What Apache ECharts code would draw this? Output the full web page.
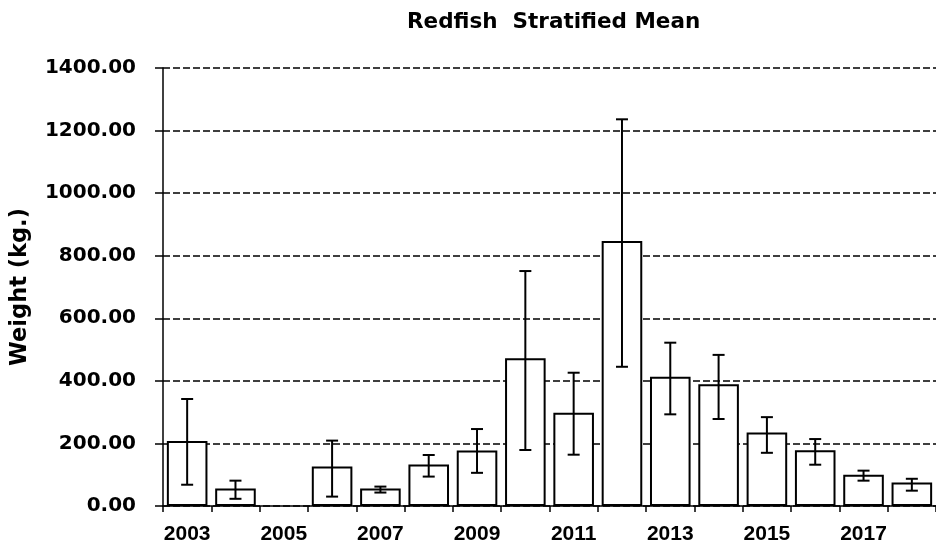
<!DOCTYPE html>
<html>
<head>
<meta charset="utf-8">
<script src="https://cdn.jsdelivr.net/npm/echarts@6/dist/echarts.min.js"></script>
<style>html,body{margin:0;padding:0;background:#fff}#c{width:936px;height:549px}</style>
</head>
<body>
<div id="c"></div>
<script>
const years = ['2003','2004','2005','2006','2007','2008','2009','2010','2011','2012','2013','2014','2015','2016','2017','2018'];
const means = [208, 56, null, 126, 56, 133, 177, 472, 298, 847, 413, 389, 235, 178, 100, 75];
const lower = [68, 23, null, 30, 43, 94, 106, 179, 164, 445, 293, 278, 170, 132, 81, 49];
const upper = [342, 81, null, 209, 62, 163, 246, 751, 426, 1236, 522, 483, 284, 214, 113, 87];
const yTicks = [0, 200, 400, 600, 800, 1000, 1200, 1400];

const errData = years.map((y, i) => upper[i] == null ? null : [i, lower[i], upper[i]]).filter(d => d);

const chart = echarts.init(document.getElementById('c'), null, {renderer: 'canvas'});
chart.setOption({
  animation: false,
  backgroundColor: '#fff',
  title: {
    text: 'Redfish  Stratified Mean',
    left: 402, top: 6,
    textStyle: {fontFamily: 'DejaVu Sans', fontWeight: 'bold', fontSize: 21.5, color: '#000'}
  },
  grid: {left: 163, right: 0, top: 68, bottom: 43, containLabel: false, outerBoundsMode: 'none'},
  xAxis: {
    type: 'category',
    data: years,
    boundaryGap: true,
    axisLine: {show: true, lineStyle: {color: '#000', width: 1.5}},
    axisTick: {show: true, interval: 0, length: 6, lineStyle: {color: '#000', width: 1.5}},
    axisLabel: {interval: 1, margin: 18, fontFamily: 'Liberation Sans', fontWeight: 'bold', fontSize: 21, color: '#000'},
    splitLine: {show: false}
  },
  yAxis: {
    type: 'value',
    min: yTicks[0], max: yTicks[yTicks.length - 1], interval: 200,
    name: 'Weight (kg.)',
    nameLocation: 'middle',
    nameGap: 131,
    nameTextStyle: {fontFamily: 'DejaVu Sans', fontWeight: 'bold', fontSize: 22.5, color: '#000'},
    axisLine: {show: true, lineStyle: {color: '#000', width: 1.5}},
    axisTick: {show: true, length: 8, lineStyle: {color: '#000', width: 1.5}},
    axisLabel: {margin: 27, fontFamily: 'DejaVu Sans', fontWeight: 'bold', fontSize: 20, color: '#000',
      formatter: v => v.toFixed(2)},
    splitLine: {show: true, lineStyle: {color: '#000', width: 1.5, type: [7, 3]}}
  },
  series: [
    {
      type: 'bar',
      data: means.map(v => v == null ? '-' : v),
      barCategoryGap: '16%',
      itemStyle: {color: '#fff', borderColor: '#000', borderWidth: 2},
      z: 3
    },
    {
      type: 'custom',
      data: errData,
      z: 5,
      renderItem: function (params, api) {
        const x = api.value(0);
        const lo = api.coord([x, api.value(1)]);
        const hi = api.coord([x, api.value(2)]);
        const hw = 6;
        const st = {stroke: '#000', lineWidth: 2};
        return {
          type: 'group',
          children: [
            {type: 'line', shape: {x1: lo[0], y1: lo[1], x2: hi[0], y2: hi[1]}, style: st},
            {type: 'line', shape: {x1: hi[0] - hw, y1: hi[1], x2: hi[0] + hw, y2: hi[1]}, style: st},
            {type: 'line', shape: {x1: lo[0] - hw, y1: lo[1], x2: lo[0] + hw, y2: lo[1]}, style: st}
          ]
        };
      }
    }
  ]
});
</script>
</body>
</html>
